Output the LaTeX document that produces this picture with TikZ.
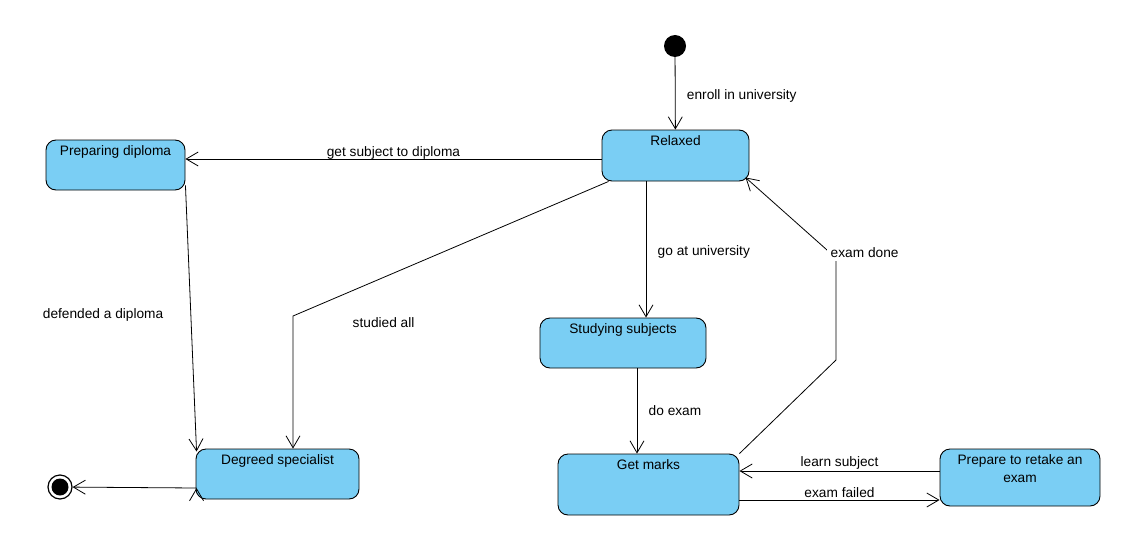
\documentclass[tikz,border=0pt]{standalone}
\usepackage{fontspec}
\setmainfont{Liberation Sans}
\usepackage{xcolor}
\usetikzlibrary{positioning,arrows.meta}
\definecolor{stateblue}{RGB}{122,206,244}
\tikzset{state node/.style={rectangle,rounded corners=10pt,draw,fill=stateblue,line width=.9pt},
  start node/.style={circle,fill=black,minimum size=22pt,inner sep=0pt},
  end node/.style={circle,draw,line width=1.2pt,minimum size=24pt,inner sep=0pt,
    path picture={\fill[black] (path picture bounding box.center) circle (8.5pt);}},
  box title/.style={anchor=north,yshift=-4pt,inner sep=2pt},
  trans/.style={-{Straight Barb[length=12pt,width=14pt]},line width=.8pt},}

\begin{document}
\begin{tikzpicture}[x=1pt,y=-1pt,font=\fontsize{13.7}{18}\selectfont]
    \useasboundingbox (0,0) rectangle (1131,535);

    \node[start node] (0) at (675,46) {};
    \node[state node,minimum width=147pt,minimum height=51pt,label={[box title]north:Relaxed}] (1) at (675.5,155.5) {};
    \node[state node,minimum width=139pt,minimum height=50pt,label={[box title]north:Preparing diploma}] (2) at (115.5,165) {};
    \node[state node,minimum width=163pt,minimum height=50pt,label={[box title]north:Degreed specialist}] (3) at (277.5,474) {};
    \node[state node,minimum width=166pt,minimum height=50pt,label={[box title]north:Studying subjects}] (4) at (623,343) {};
    \node[state node,minimum width=181pt,minimum height=61pt,label={[box title]north:Get marks}] (5) at (648.5,484.5) {};
    \node[state node,minimum width=160pt,minimum height=57pt,label={[box title,align=center]north:{Prepare to retake an\\exam}}] (6) at (1020,477.5) {};
    \node[end node] (7) at (60,487) {};

    \coordinate (c1) at (0,159);
    \coordinate (c2) at (293,316);
    \coordinate (c3) at (646,0);
    \coordinate (c4) at (637,0);
    \coordinate (c5) at (836,360);
    \coordinate (c6) at (836,258);
    \coordinate (c7) at (0,471);
    \coordinate (c8) at (0,500);
    \coordinate (c9) at (0,488);

    \path[draw,trans]
    (0) edge node[right=8pt,yshift=-3pt] {enroll in university} (1)
    (1.west |- c1) edge node[above,yshift=-4pt] {get subject to diploma} (2.east |- c1)
    ([yshift=5pt]2.south east) edge node[left=24pt,yshift=4pt] {defended a diploma} ([xshift=1pt,yshift=-3pt]3.north west)
    (1.south -| c3) edge node[right=8pt,yshift=-2pt] {go at university} (4.north -| c3)
    (4.south -| c4) edge node[right=8pt] {do exam} (5.north -| c4)
    (6.west |- c7) edge node[above,yshift=-2pt] {learn subject} (5.east |- c7)
    (5.east |- c8) edge node[above,yshift=-1pt] {exam failed} (6.west |- c8)
    ([xshift=1pt]3.west |- c9) edge (7)
    ;

    \draw[trans] ([xshift=7pt]1.south west) -- (c2) node[right=56pt,yshift=-7pt] {studied all} -- (c2 |- 3.north);
    \draw[trans] (5.north east) -- (c5) -- (c6) node[fill=white,anchor=west,xshift=-9pt,yshift=5pt] {exam done} -- ([xshift=-4pt,yshift=4pt]1.south east);
\end{tikzpicture}
\end{document}
